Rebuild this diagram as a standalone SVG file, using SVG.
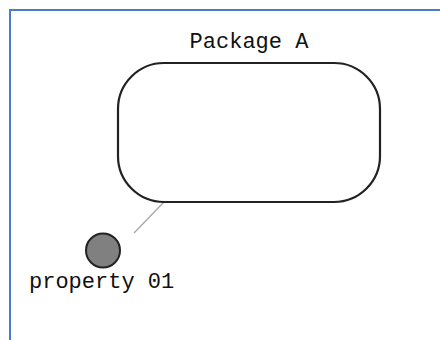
<svg xmlns="http://www.w3.org/2000/svg" width="440" height="340" viewBox="0 0 440 340">
  <style>
    .frame { fill: #ffffff; stroke: #4a7bd0; stroke-width: 2; }
    .pkg { fill: #ffffff; stroke: #222222; stroke-width: 2.2; }
    .prop { fill: #808080; stroke: #222222; stroke-width: 2; }
    .conn { stroke: #a6a6a6; stroke-width: 1.3; fill: none; }
    .lbl { font-family: "Liberation Mono", "DejaVu Sans Mono", monospace; font-size: 22px; fill: #111111; }
  </style>
  <rect x="0" y="0" width="440" height="340" fill="#ffffff"/>
  <rect class="frame" x="10" y="10" width="460" height="360"/>
  <g id="connectors">
    <line class="conn" x1="134" y1="233" x2="164" y2="202"/>
  </g>
  <g id="package-a">
    <rect class="pkg" x="118" y="63" width="262" height="139" rx="46" ry="46"/>
    <text class="lbl" x="249" y="48" text-anchor="middle">Package A</text>
  </g>
  <g id="property-01">
    <circle class="prop" cx="103" cy="250.5" r="17"/>
    <text class="lbl" x="29" y="288">property 01</text>
  </g>
</svg>
